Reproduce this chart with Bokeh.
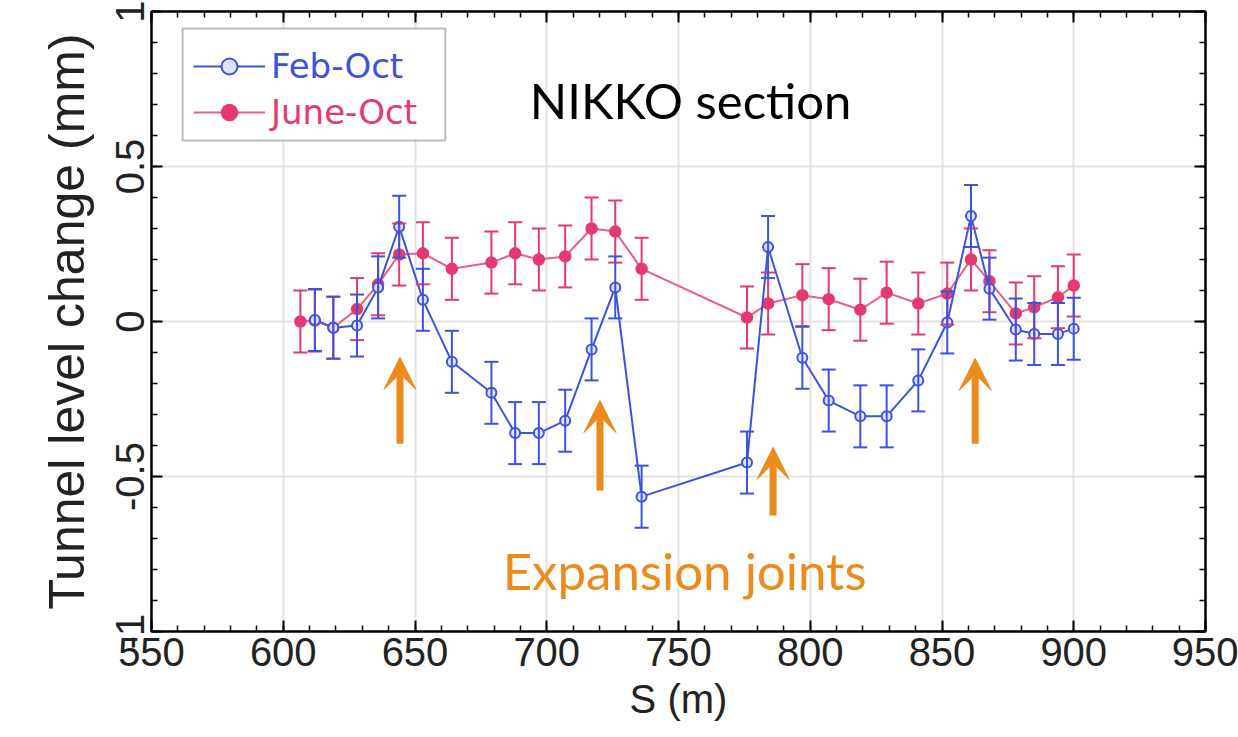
from bokeh.plotting import figure
from bokeh.models import (ColumnDataSource, Whisker, TeeHead, Arrow, VeeHead, Label,
                          Legend, LegendItem, LinearAxis, FixedTicker, Range1d,
                          NumeralTickFormatter, BoxAnnotation, CustomLabelingPolicy)
from bokeh.embed import file_html
from bokeh.resources import INLINE

# ---------------- data ----------------
s_feb = [612, 619, 628, 636, 644, 653, 664, 679, 688, 697, 707, 717, 726, 736,
         776, 784, 797, 807, 819, 829, 841, 852, 861, 868, 878, 885, 894, 900]
feb_oct = [0.005, -0.02, -0.013, 0.11, 0.306, 0.07, -0.13, -0.23, -0.36, -0.36, -0.32,
           -0.09, 0.11, -0.565, -0.455, 0.24, -0.117, -0.255, -0.306, -0.306, -0.19,
           -0.003, 0.34, 0.106, -0.026, -0.04, -0.04, -0.023]
feb_err = [0.1] * 28

s_june = [606.5, 612, 619, 628, 636, 644, 653, 664, 679, 688, 697, 707, 717, 726, 736,
          776, 784, 797, 807, 819, 829, 841, 852, 861, 868, 878, 885, 894, 900]
june_oct = [0.0, 0.003, -0.02, 0.04, 0.12, 0.216, 0.22, 0.17, 0.19, 0.22, 0.20, 0.21,
            0.30, 0.29, 0.17, 0.013, 0.058, 0.085, 0.072, 0.038, 0.093, 0.058, 0.09,
            0.20, 0.13, 0.026, 0.046, 0.078, 0.116]
june_err = [0.1] * 29

joint_s = [644.3, 720.2, 785.9, 862.6]
arrow_bottom = [-0.394, -0.545, -0.626, -0.394]
arrow_top = [-0.116, -0.255, -0.406, -0.119]

x_ticks = [550, 600, 650, 700, 750, 800, 850, 900, 950]
x_minor = list(range(550, 951, 10))
y_ticks = [-1, -0.5, 0, 0.5, 1]
y_minor = [round(-1 + 0.1 * i, 1) for i in range(21)]

BLUE = "#3c52e0"
BLUE_FILL = "#dfe3ff"
PINK = "#e5396f"
PINK_LINE = "#e85f87"
ORANGE = "#ec8a1c"
AXFONT = "Liberation Sans"

# ---------------- figure ----------------
p = figure(width=1238, height=737, x_range=Range1d(550, 950), y_range=Range1d(-1, 1),
           output_backend="svg", toolbar_location=None,
           min_border_left=151, min_border_right=33, min_border_top=11, min_border_bottom=106)
p.background_fill_color = "white"
p.border_fill_color = "white"
p.outline_line_color = "black"
p.outline_line_width = 2

xaxis = p.below[0]
yaxis = p.left[0]
xaxis.ticker = FixedTicker(ticks=x_ticks, minor_ticks=x_minor)
yaxis.ticker = FixedTicker(ticks=y_ticks, minor_ticks=y_minor)
yaxis.formatter = NumeralTickFormatter(format="0.[0]")

p.xgrid.ticker = FixedTicker(ticks=x_ticks)
p.ygrid.ticker = FixedTicker(ticks=y_ticks)
p.grid.grid_line_color = "#e3e3e3"
p.grid.grid_line_width = 2


def style_axis(ax):
    ax.axis_line_color = "black"
    ax.axis_line_width = 2
    ax.major_tick_in = 11
    ax.major_tick_out = 0
    ax.minor_tick_in = 6
    ax.minor_tick_out = 0
    ax.major_tick_line_color = "black"
    ax.minor_tick_line_color = "black"
    ax.major_tick_line_width = 2
    ax.minor_tick_line_width = 1.5
    ax.major_label_text_font = AXFONT
    ax.major_label_text_font_size = "40px"
    ax.major_label_text_color = "#222222"
    ax.axis_label_text_font = AXFONT
    ax.axis_label_text_font_style = "normal"
    ax.axis_label_text_color = "#222222"


style_axis(xaxis)
style_axis(yaxis)
xaxis.major_label_standoff = 6
xaxis.axis_label = "S (m)"
xaxis.axis_label_text_font_size = "40px"
xaxis.axis_label_standoff = 8
yaxis.major_label_orientation = "vertical"
yaxis.major_label_standoff = 8
yaxis.axis_label = "Tunnel level change (mm)"
yaxis.axis_label_text_font_size = "50px"
yaxis.axis_label_standoff = 18

hide_all = CustomLabelingPolicy(code="for (const i of indices) indices.unset(i)")
top_axis = LinearAxis(ticker=FixedTicker(ticks=x_ticks, minor_ticks=x_minor))
right_axis = LinearAxis(ticker=FixedTicker(ticks=y_ticks, minor_ticks=y_minor))
for ax in (top_axis, right_axis):
    style_axis(ax)
    ax.major_label_text_font_size = "2px"
    ax.major_label_standoff = 0
    ax.major_label_policy = hide_all
p.add_layout(top_axis, "above")
p.add_layout(right_axis, "right")

# ---------------- data sources ----------------
src_june = ColumnDataSource(dict(
    s=s_june, v=june_oct,
    up=[v + e for v, e in zip(june_oct, june_err)],
    lo=[v - e for v, e in zip(june_oct, june_err)]))
src_feb = ColumnDataSource(dict(
    s=s_feb, v=feb_oct,
    up=[v + e for v, e in zip(feb_oct, feb_err)],
    lo=[v - e for v, e in zip(feb_oct, feb_err)]))

for src, col in ((src_june, PINK), (src_feb, BLUE)):
    p.add_layout(Whisker(source=src, base="s", upper="up", lower="lo",
                         line_color=col, line_width=2, level="glyph",
                         upper_head=TeeHead(size=14, line_color=col, line_width=2),
                         lower_head=TeeHead(size=14, line_color=col, line_width=2)))

r_june_line = p.line("s", "v", source=src_june, line_color=PINK_LINE, line_width=2)
r_june_pts = p.scatter("s", "v", source=src_june, marker="circle", size=11,
                       fill_color=PINK, line_color=PINK, line_width=1.5)
r_feb_line = p.line("s", "v", source=src_feb, line_color=BLUE, line_width=2)
r_feb_pts = p.scatter("s", "v", source=src_feb, marker="circle", size=10,
                      fill_color=BLUE_FILL, line_color=BLUE, line_width=2)

# ---------------- arrows & texts ----------------
arrow_src = ColumnDataSource(dict(x=joint_s, y0=arrow_bottom, y1=arrow_top))
p.add_layout(Arrow(source=arrow_src, x_start="x", y_start="y0", x_end="x", y_end="y1",
                   line_color=ORANGE, line_width=7,
                   end=VeeHead(size=32, fill_color=ORANGE, line_color=ORANGE, line_width=1)))

p.add_layout(Label(x=754.6, y=0.713, text="NIKKO section", text_font="Lato",
                   text_font_size="49px", text_color="black",
                   text_align="center", text_baseline="middle"))
p.add_layout(Label(x=752.3, y=-0.803, text="Expansion joints", text_font="Lato",
                   text_font_size="51px", text_color=ORANGE,
                   text_align="center", text_baseline="middle"))

# ---------------- legend ----------------
p.add_layout(BoxAnnotation(left=561.8, right=661.5, bottom=0.584, top=0.945,
                           fill_color="white", fill_alpha=1,
                           line_color="#222222", line_width=2))


def make_legend(label, rends, color, loc):
    return Legend(items=[LegendItem(label=label, renderers=rends)], location=loc,
                  border_line_color=None, background_fill_alpha=0, padding=4, margin=0,
                  glyph_width=72, glyph_height=40, label_height=40, label_standoff=6,
                  label_text_font="DejaVu Sans", label_text_font_size="34px",
                  label_text_color=color)


p.add_layout(make_legend("Feb-Oct", [r_feb_line, r_feb_pts], BLUE, (42, 545)))
p.add_layout(make_legend("June-Oct", [r_june_line, r_june_pts], PINK, (42, 499)))

open("out.html", "w").write(file_html(p, INLINE))
